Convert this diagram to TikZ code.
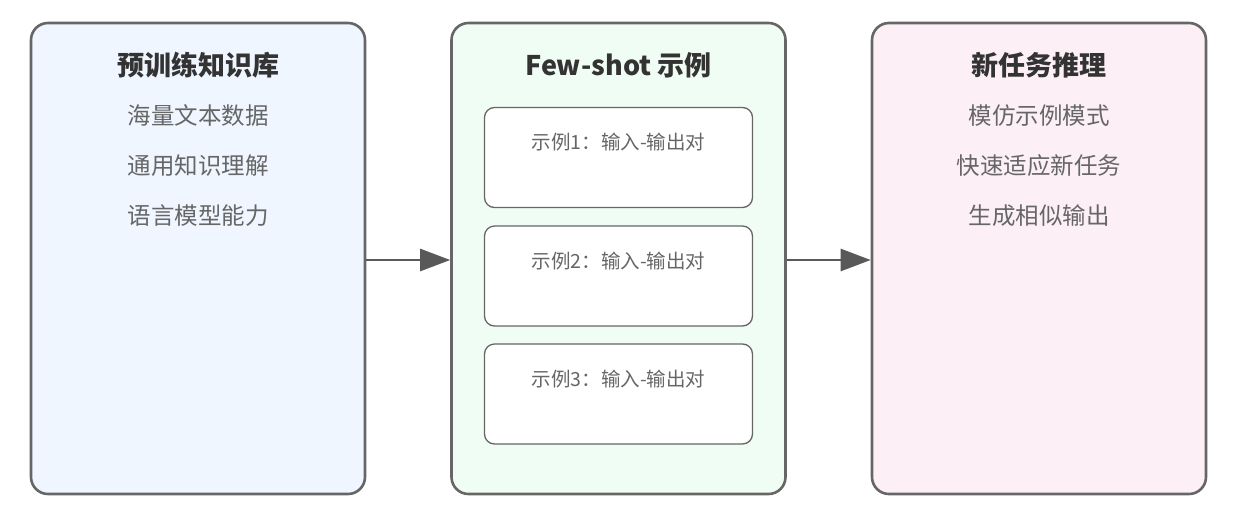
\documentclass[tikz,border=0pt]{standalone}
\usepackage{fontspec}
\newfontfamily\cjk{Noto Sans CJK SC}
\usetikzlibrary{arrows.meta}
\definecolor{bordergray}{HTML}{666666}
\definecolor{arrowgray}{HTML}{595959}
\definecolor{titlecol}{HTML}{333333}
\definecolor{itemcol}{HTML}{666666}
\definecolor{fillblue}{HTML}{EFF6FF}
\definecolor{fillgreen}{HTML}{F0FDF4}
\definecolor{fillpink}{HTML}{FCF0F6}
\tikzset{
  panel/.style={draw=bordergray, line width=2.6pt, rounded corners=17pt, minimum width=334pt, minimum height=471pt, inner sep=0pt},
  card/.style={draw=bordergray, line width=1.3pt, rounded corners=10pt, fill=white, minimum width=268pt, minimum height=100pt, inner sep=0pt},
  ptitle/.style={font=\cjk\bfseries\fontsize{27}{31}\selectfont, text=titlecol},
  pitem/.style={font=\cjk\fontsize{23.5}{28}\selectfont, text=itemcol},
  ctext/.style={font=\cjk\fontsize{19.5}{23}\selectfont, text=itemcol},
  flow/.style={draw=arrowgray, line width=2.6pt, -{Triangle[length=30pt,width=22pt]}}
}
\begin{document}
\begin{tikzpicture}[x=1pt,y=-1pt]
\useasboundingbox (0,0) rectangle (1236,520);
% panels
\node[panel, fill=fillblue] (left) at (198,258.5) {};
\node[panel, fill=fillgreen] (mid) at (618.5,258.5) {};
\node[panel, fill=fillpink] (right) at (1039,258.5) {};
% left texts
\node[ptitle] (lt) at (198,65) {预训练知识库};
\node[pitem] (l1) at (198,116) {海量文本数据};
\node[pitem] (l2) at (198,166) {通用知识理解};
\node[pitem] (l3) at (198,216) {语言模型能力};
% middle
\node[ptitle] (mt) at (618.5,65) {Few-shot 示例};
\node[card] (c1) at (618.5,157.5) {};
\node[card] (c2) at (618.5,276) {};
\node[card] (c3) at (618.5,394) {};
\node[ctext] (c1t) at (618.5,142) {示例1：输入-输出对};
\node[ctext] (c2t) at (618.5,261) {示例2：输入-输出对};
\node[ctext] (c3t) at (618.5,379) {示例3：输入-输出对};
% right
\node[ptitle] (rt) at (1039,65) {新任务推理};
\node[pitem] (r1) at (1039,116) {模仿示例模式};
\node[pitem] (r2) at (1039,166) {快速适应新任务};
\node[pitem] (r3) at (1039,216) {生成相似输出};
% arrows
\draw[flow] (left.east |- 0,260) -- (mid.west |- 0,260);
\draw[flow] (mid.east |- 0,260) -- (right.west |- 0,260);
\end{tikzpicture}
\end{document}
